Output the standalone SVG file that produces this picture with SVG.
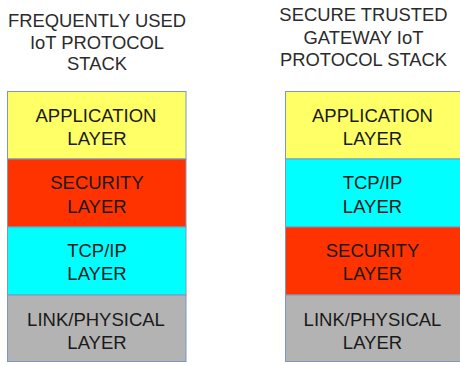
<svg xmlns="http://www.w3.org/2000/svg" width="460" height="365" viewBox="0 0 460 365">
<style>
.t{font-family:"Liberation Sans",Arial,sans-serif;font-size:18.4px;fill:#2b2b2b;text-anchor:middle}
.l{font-family:"Liberation Sans",Arial,sans-serif;font-size:18.5px;fill:#1a1a1a;text-anchor:middle}
.b{stroke:#7b97c2;stroke-width:1}
.app{fill:#ffff66}.sec{fill:#ff3300}.tcp{fill:#00ffff}.lnk{fill:#b3b3b3}
</style>
<rect width="460" height="365" fill="#ffffff"/>
<g id="title-left">
<text class="t" x="97" y="27">FREQUENTLY USED</text>
<text class="t" x="97" y="48.5">IoT PROTOCOL</text>
<text class="t" x="97" y="70">STACK</text>
</g>
<g id="title-right">
<text class="t" x="363.5" y="21">SECURE TRUSTED</text>
<text class="t" x="363.5" y="43.5">GATEWAY IoT</text>
<text class="t" x="363.5" y="66">PROTOCOL STACK</text>
</g>
<g id="left-app"><rect class="app b" x="7.5" y="91.5" width="178.5" height="67.5"/><text class="l" x="96" y="122">APPLICATION</text><text class="l" x="97" y="145">LAYER</text></g>
<g id="left-sec"><rect class="sec b" x="7.5" y="159" width="178.5" height="68"/><text class="l" x="97" y="189">SECURITY</text><text class="l" x="97" y="212.5">LAYER</text></g>
<g id="left-tcp"><rect class="tcp b" x="7.5" y="227" width="178.5" height="68"/><text class="l" x="97" y="257">TCP/IP</text><text class="l" x="97" y="280">LAYER</text></g>
<g id="left-link"><rect class="lnk b" x="7.5" y="295" width="178.5" height="66.5"/><text class="l" x="96" y="326">LINK/PHYSICAL</text><text class="l" x="97" y="348.5">LAYER</text></g>
<g id="right-app"><rect class="app b" x="285.5" y="91.5" width="178.5" height="67.5"/><text class="l" x="372.5" y="122">APPLICATION</text><text class="l" x="372.5" y="145">LAYER</text></g>
<g id="right-tcp"><rect class="tcp b" x="285.5" y="159" width="178.5" height="68"/><text class="l" x="372.5" y="189">TCP/IP</text><text class="l" x="372.5" y="212.5">LAYER</text></g>
<g id="right-sec"><rect class="sec b" x="285.5" y="227" width="178.5" height="68"/><text class="l" x="372.5" y="257">SECURITY</text><text class="l" x="372.5" y="280">LAYER</text></g>
<g id="right-link"><rect class="lnk b" x="285.5" y="295" width="178.5" height="66.5"/><text class="l" x="372.5" y="326">LINK/PHYSICAL</text><text class="l" x="372.5" y="348.5">LAYER</text></g>
<g id="connectors"/>
</svg>
